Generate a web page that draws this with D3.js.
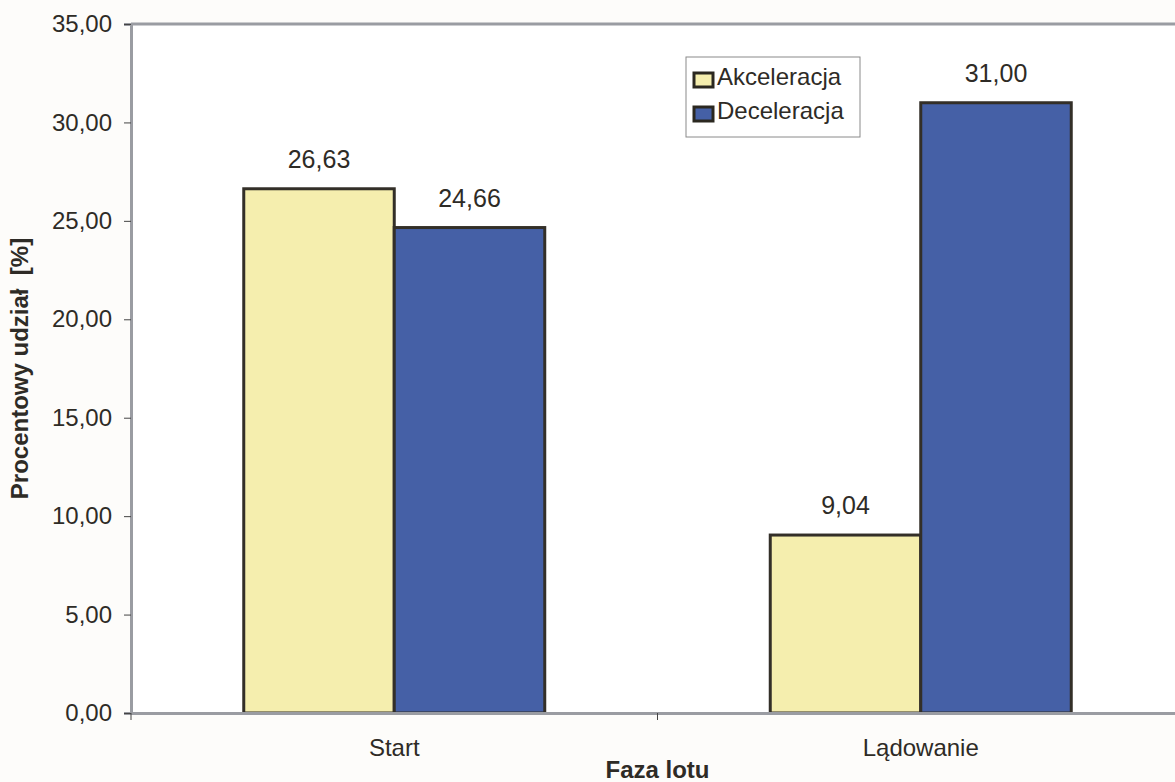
<!DOCTYPE html>
<html><head><meta charset="utf-8">
<script src="https://cdn.jsdelivr.net/npm/d3@7"></script>
<style>html,body{margin:0;padding:0;background:#fdfcfa;}svg{display:block;}</style>
</head><body>
<svg id="c" width="1175" height="782"></svg>
<script>
const categories = ["Start", "Lądowanie"];
const seriesNames = ["Akceleracja", "Deceleracja"];
const akceleracja = [26.63, 9.04];
const deceleracja = [24.66, 31.00];
const yTicks = [0, 5, 10, 15, 20, 25, 30, 35];
const colors = ["#f5eeae", "#4560a6"];

const svg = d3.select("#c");
const m = {left: 131, top: 24, right: 1184, bottom: 713};
const fmt = v => d3.format(".2f")(v).replace(".", ",");
const font = "Liberation Sans, Arial, sans-serif";
const txt = "#2e2b26";

const x = d3.scaleBand().domain(categories).range([m.left, m.right]).paddingInner(0).paddingOuter(0);
const y = d3.scaleLinear().domain([0, 35]).range([m.bottom, m.top]);
const xs = d3.scaleBand().domain(seriesNames).range([0, 301]);
const groupOffset = (x.bandwidth() - 301) / 2;

svg.append("rect").attr("x", m.left).attr("y", m.top).attr("width", m.right - m.left).attr("height", m.bottom - m.top).attr("fill", "#ffffff");

const data = [];
categories.forEach((c, i) => {
  data.push({cat: c, s: seriesNames[0], v: akceleracja[i], col: colors[0]});
  data.push({cat: c, s: seriesNames[1], v: deceleracja[i], col: colors[1]});
});

// plot frame top line
svg.append("line").attr("x1", m.left).attr("x2", m.right).attr("y1", m.top).attr("y2", m.top).attr("stroke", "#9a9ca2").attr("stroke-width", 3);

// bars
svg.selectAll("rect.bar").data(data).enter().append("rect")
  .attr("class", "bar")
  .attr("x", d => x(d.cat) + groupOffset + xs(d.s))
  .attr("y", d => y(d.v))
  .attr("width", xs.bandwidth())
  .attr("height", d => y(0) - y(d.v))
  .attr("fill", d => d.col)
  .attr("stroke", "#332f28").attr("stroke-width", 3);

// value labels
svg.selectAll("text.val").data(data).enter().append("text")
  .attr("x", d => x(d.cat) + groupOffset + xs(d.s) + xs.bandwidth() / 2)
  .attr("y", d => y(d.v) - 21)
  .attr("text-anchor", "middle")
  .attr("font-family", font).attr("font-size", 25).attr("fill", txt)
  .text(d => fmt(d.v));

// y axis
const yAxis = svg.append("g").attr("transform", `translate(${m.left},0)`)
  .call(d3.axisLeft(y).tickValues(yTicks).tickFormat(fmt).tickSize(7).tickPadding(12));
yAxis.select(".domain").attr("stroke", "#9a9ca2").attr("stroke-width", 3);
yAxis.selectAll(".tick line").attr("stroke", "#444");
yAxis.selectAll("text").attr("font-family", font).attr("font-size", 24).attr("fill", txt);

// x axis
const xAxis = svg.append("g").attr("transform", `translate(0,${m.bottom})`)
  .call(d3.axisBottom(x).tickSize(0).tickPadding(26));
xAxis.select(".domain").attr("stroke", "#9a9ca2").attr("stroke-width", 3);
xAxis.selectAll("text").attr("font-family", font).attr("font-size", 24).attr("fill", txt);
// tick marks between categories
const bounds = [m.left, x(categories[1])];
svg.selectAll("line.xt").data(bounds).enter().append("line")
  .attr("x1", d => d).attr("x2", d => d).attr("y1", m.bottom).attr("y2", m.bottom + 7)
  .attr("stroke", "#444").attr("stroke-width", 1);

// axis titles
svg.append("text").attr("x", x(categories[1])).attr("y", 778).attr("text-anchor", "middle")
  .attr("font-family", font).attr("font-size", 24).attr("font-weight", "bold").attr("fill", txt).text("Faza lotu");
svg.append("text").attr("transform", `translate(28,${(m.top + m.bottom) / 2}) rotate(-90)`).attr("text-anchor", "middle")
  .attr("font-family", font).attr("font-size", 24).attr("font-weight", "bold").attr("fill", txt).attr("xml:space", "preserve").text("Procentowy udział  [%]");

// legend
const lg = svg.append("g").attr("transform", "translate(686,57)");
lg.append("rect").attr("width", 174).attr("height", 80).attr("fill", "#fff").attr("stroke", "#8a8a8a").attr("stroke-width", 1);
seriesNames.forEach((s, i) => {
  const g = lg.append("g").attr("transform", `translate(0,${28 + i * 34})`);
  g.append("rect").attr("x", 8).attr("y", -12).attr("width", 19).attr("height", 14).attr("fill", colors[i]).attr("stroke", "#2b2820").attr("stroke-width", 3);
  g.append("text").attr("x", 31).attr("y", 0).attr("font-family", font).attr("font-size", 24).attr("fill", txt).text(s);
});
</script>
</body></html>
